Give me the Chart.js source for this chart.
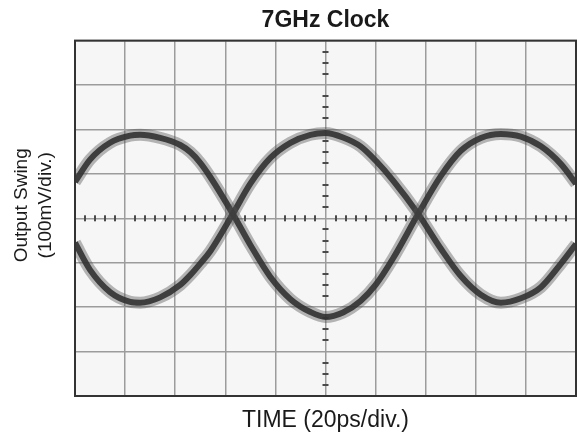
<!DOCTYPE html>
<html>
<head>
<meta charset="utf-8">
<script src="https://cdn.jsdelivr.net/npm/chart.js@4/dist/chart.umd.min.js"></script>
<style>
  html, body { margin: 0; padding: 0; background: #ffffff; }
  #wrap { width: 577px; height: 436px; }
</style>
</head>
<body>
<div id="wrap"><canvas id="c" width="577" height="436"></canvas></div>
<script>
// ---- data (time in ps, swing in mV) ----
const TITLE = '7GHz Clock';
const X_TITLE = 'TIME (20ps/div.)';
const Y_TITLE = ['Output Swing', '(100mV/div.)'];

const TIME_PS = [0, 6, 14, 22, 26, 34, 42, 46, 50, 54, 63, 70, 78, 86, 94, 100,
                 107, 114, 120, 127, 137, 146, 154, 162, 170, 178, 186, 194, 200];
const SWING_A = [82, 132, 170, 186, 188, 181, 165, 149, 125, 93, 10, -60, -132, -182, -211, -222,
                 -212, -186, -150, -90, 10, 95, 152, 181, 190, 184, 162, 122, 78];
const SWING_B = [-55, -116, -166, -188, -190, -178, -150, -128, -102, -74, 10, 78, 136, 170, 188, 192,
                 182, 162, 130, 85, 10, -68, -130, -172, -190, -180, -155, -102, -58];

// axis ranges / divisions
const X_MIN = 0, X_MAX = 200, X_DIV = 20, X_MINOR = 4;
const Y_MIN = -400, Y_MAX = 400, Y_DIV = 100, Y_MINOR = 25;

const FONT = "'Liberation Sans', Arial, Helvetica, sans-serif";

function pts(xs, ys) { return xs.map((x, i) => ({ x: x, y: ys[i] })); }

const traceStyle = {
  outer: { borderColor: 'rgba(80,80,80,0.40)', borderWidth: 12 },
  inner: { borderColor: 'rgba(30,30,30,0.90)', borderWidth: 6 }
};

function ds(ys, style) {
  return {
    data: pts(TIME_PS, ys),
    borderColor: style.borderColor,
    borderWidth: style.borderWidth,
    pointRadius: 0,
    fill: false,
    cubicInterpolationMode: 'monotone',
    clip: 0
  };
}

const scopePlugin = {
  id: 'scope',
  beforeDraw(chart) {
    const { ctx, chartArea: a } = chart;
    ctx.save();
    ctx.fillStyle = '#f6f6f6';
    ctx.fillRect(a.left, a.top, a.right - a.left, a.bottom - a.top);
    ctx.restore();
  },
  beforeDatasetsDraw(chart) {
    const { ctx, scales } = chart;
    const xs = scales.x, ys = scales.y;
    const y0 = ys.getPixelForValue(0);
    const xc = xs.getPixelForValue((X_MIN + X_MAX) / 2);
    ctx.save();
    ctx.fillStyle = '#4a4a4a';
    for (let v = X_MIN + X_MINOR; v < X_MAX; v += X_MINOR) {
      if (v % X_DIV === 0) continue;
      const px = xs.getPixelForValue(v);
      ctx.fillRect(Math.round(px) - 1, y0 - 3, 2, 6);
    }
    for (let v = Y_MIN + Y_MINOR; v < Y_MAX; v += Y_MINOR) {
      if (v % Y_DIV === 0) continue;
      const py = ys.getPixelForValue(v);
      ctx.fillRect(xc - 3, Math.round(py) - 1, 6, 2);
    }
    ctx.restore();
  },
  afterDatasetsDraw(chart) {
    const { ctx, chartArea: a } = chart;
    ctx.save();
    ctx.strokeStyle = '#333333';
    ctx.lineWidth = 2;
    ctx.strokeRect(a.left, a.top, a.right - a.left, a.bottom - a.top);
    ctx.fillStyle = '#1a1a1a';
    ctx.font = '23px ' + FONT;
    ctx.textAlign = 'center';
    ctx.textBaseline = 'alphabetic';
    ctx.fillText(X_TITLE, (a.left + a.right) / 2, a.bottom + 31);
    ctx.font = '19px ' + FONT;
    ctx.textBaseline = 'middle';
    const cy = (a.top + a.bottom) / 2 - 13;
    ctx.translate(0, cy);
    ctx.rotate(-Math.PI / 2);
    ctx.fillText(Y_TITLE[0], 0, 22);
    ctx.fillText(Y_TITLE[1], 0, 46);
    ctx.restore();
  }
};

new Chart(document.getElementById('c'), {
  type: 'line',
  data: {
    datasets: [
      ds(SWING_A, traceStyle.outer),
      ds(SWING_B, traceStyle.outer),
      ds(SWING_A, traceStyle.inner),
      ds(SWING_B, traceStyle.inner)
    ]
  },
  options: {
    responsive: false,
    animation: false,
    devicePixelRatio: 1,
    layout: { padding: { left: 75, right: 1, top: 0, bottom: 40 } },
    plugins: {
      legend: { display: false },
      tooltip: { enabled: false },
      title: {
        display: true,
        text: TITLE,
        fullSize: false,
        color: '#1a1a1a',
        font: { family: FONT, size: 23, weight: 'bold', lineHeight: 1.2 },
        padding: { top: 7, bottom: 6 }
      }
    },
    scales: {
      x: {
        type: 'linear',
        min: X_MIN, max: X_MAX,
        ticks: { display: false, stepSize: X_DIV },
        grid: { color: '#9c9c9c', lineWidth: 1.5, drawTicks: false },
        border: { display: false }
      },
      y: {
        type: 'linear',
        min: Y_MIN, max: Y_MAX,
        ticks: { display: false, stepSize: Y_DIV },
        grid: { color: '#9c9c9c', lineWidth: 1.5, drawTicks: false },
        border: { display: false }
      }
    }
  },
  plugins: [scopePlugin]
});
</script>
</body>
</html>
